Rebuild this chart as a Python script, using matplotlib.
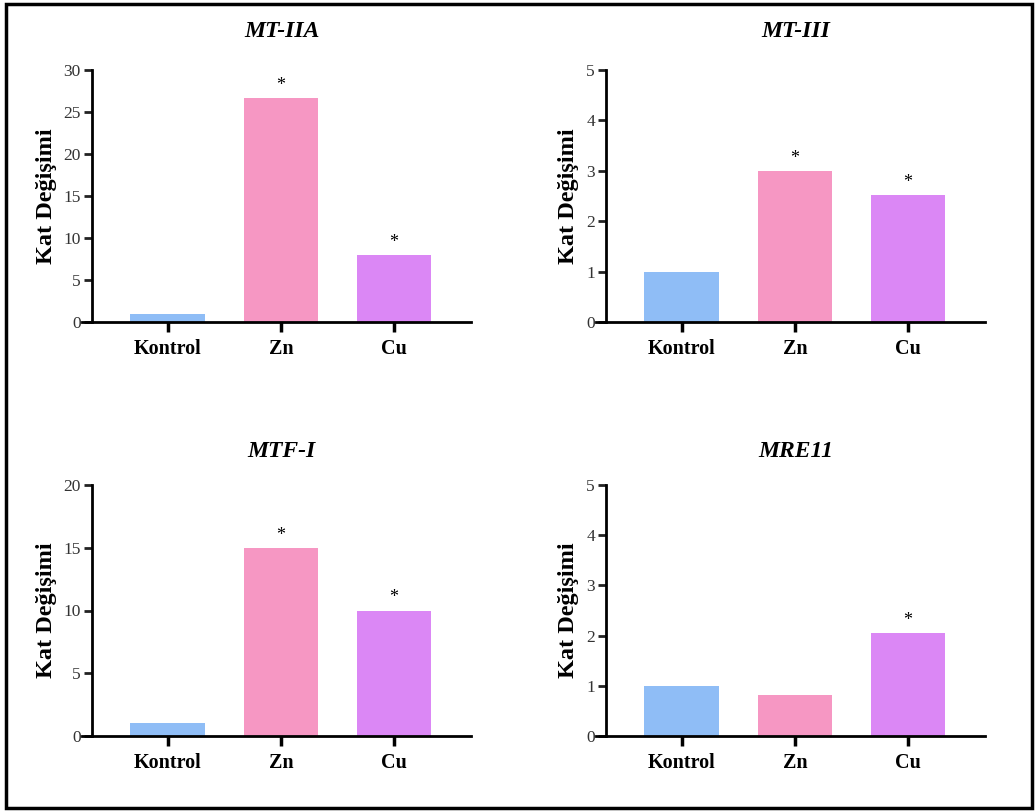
import matplotlib
matplotlib.use('Agg')
import matplotlib.pyplot as plt
from matplotlib.patches import Rectangle

plt.rcParams['font.family'] = ['Liberation Serif', 'DejaVu Serif']

groups = ['Kontrol', 'Zn', 'Cu']
colors = ['#8fbdf6', '#f697c3', '#db87f5']

titles = ['MT-IIA', 'MT-III', 'MTF-I', 'MRE11']
mt_iia = [1.0, 26.7, 8.0]
mt_iii = [1.0, 3.0, 2.52]
mtf_i = [1.0, 15.0, 10.0]
mre11 = [1.0, 0.82, 2.05]
values = [mt_iia, mt_iii, mtf_i, mre11]
ymax = [30, 5, 20, 5]
ystep = [5, 1, 5, 1]
stars = [[False, True, True], [False, True, True],
         [False, True, True], [False, False, True]]

W, H = 1036, 811
fig = plt.figure(figsize=(W / 100, H / 100), dpi=100)

# panel boxes in pixels: left, top, right, bottom
boxes = [(92, 70, 471, 322), (606, 70, 985, 322),
         (92, 485, 471, 736), (606, 485, 985, 736)]

for i, (l, t, r, b) in enumerate(boxes):
    ax = fig.add_axes([l / W, 1 - b / H, (r - l) / W, (b - t) / H])
    x = range(len(groups))
    ax.bar(x, values[i], width=0.66, color=colors)
    for xi, v, s in zip(x, values[i], stars[i]):
        if s:
            ax.annotate('*', (xi, v), xytext=(0, 3), textcoords='offset points',
                        ha='center', va='bottom', fontsize=13)
    ax.set_xlim(-0.67, 2.68)
    ax.set_ylim(0, ymax[i])
    ax.set_yticks(range(0, ymax[i] + 1, ystep[i]))
    ax.set_xticks(list(x))
    ax.set_xticklabels(groups, fontsize=14.5, fontweight='bold')
    ax.tick_params(axis='y', labelsize=12.5, width=2, length=6, colors='#222222', labelcolor='#333333', pad=2)
    ax.tick_params(axis='x', width=2.5, length=7, pad=5)
    for sp in ['top', 'right']:
        ax.spines[sp].set_visible(False)
    for sp in ['left', 'bottom']:
        ax.spines[sp].set_linewidth(2)
    ax.spines['bottom'].set_bounds(-0.76, 2.68)
    ax.set_ylabel('Kat Değişimi', fontsize=17.5, fontweight='bold', labelpad=5)
    ax.set_title(titles[i], fontsize=17, fontweight='bold', style='italic',
                 pad=24 if i < 2 else 20)

# outer frame
fig.patches.append(Rectangle((6 / W, 3 / H), 1 - 10 / W, 1 - 7 / H,
                             transform=fig.transFigure, fill=False,
                             edgecolor='black', linewidth=2.5))

fig.savefig('out.png', dpi=100)
